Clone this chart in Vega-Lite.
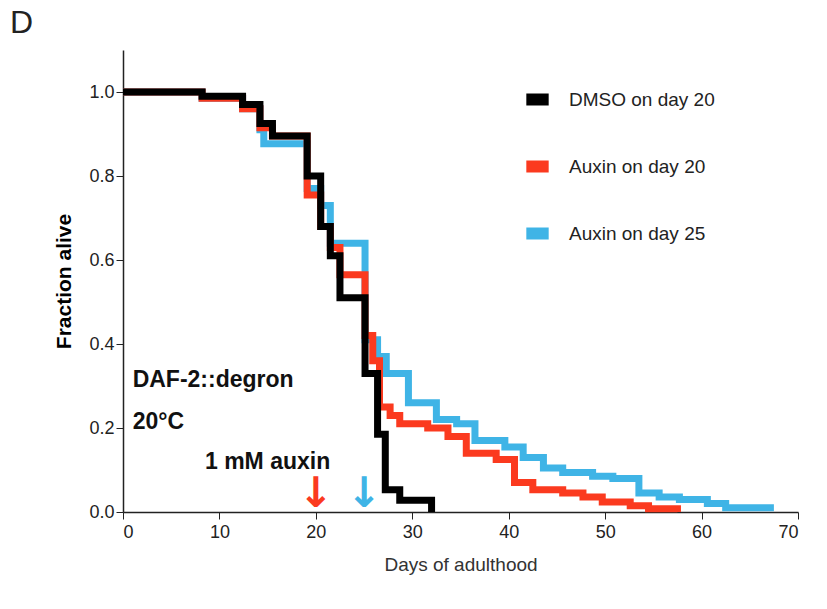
{
  "$schema": "https://vega.github.io/schema/vega-lite/v6.json",
  "width": 675,
  "height": 462,
  "autosize": "none",
  "padding": {"left": 123, "top": 50, "right": 29, "bottom": 97},
  "background": "white",
  "config": {"view": {"stroke": null}, "font": "Liberation Sans"},
  "datasets": {
    "curves": [
      {"g": "DMSO on day 20", "day": 0, "f": 1.0},
      {"g": "DMSO on day 20", "day": 8.2, "f": 0.99},
      {"g": "DMSO on day 20", "day": 12.4, "f": 0.97},
      {"g": "DMSO on day 20", "day": 14.2, "f": 0.925},
      {"g": "DMSO on day 20", "day": 15.5, "f": 0.895},
      {"g": "DMSO on day 20", "day": 19.1, "f": 0.8},
      {"g": "DMSO on day 20", "day": 20.5, "f": 0.68},
      {"g": "DMSO on day 20", "day": 21.5, "f": 0.61},
      {"g": "DMSO on day 20", "day": 22.5, "f": 0.51},
      {"g": "DMSO on day 20", "day": 25.1, "f": 0.33},
      {"g": "DMSO on day 20", "day": 26.4, "f": 0.185},
      {"g": "DMSO on day 20", "day": 27.2, "f": 0.053},
      {"g": "DMSO on day 20", "day": 28.7, "f": 0.028},
      {"g": "DMSO on day 20", "day": 32.0, "f": 0.0},
      {"g": "Auxin on day 20", "day": 0, "f": 1.0},
      {"g": "Auxin on day 20", "day": 8.2, "f": 0.985},
      {"g": "Auxin on day 20", "day": 12.4, "f": 0.96},
      {"g": "Auxin on day 20", "day": 14.2, "f": 0.915},
      {"g": "Auxin on day 20", "day": 15.5, "f": 0.895},
      {"g": "Auxin on day 20", "day": 19.1, "f": 0.755},
      {"g": "Auxin on day 20", "day": 20.5, "f": 0.68},
      {"g": "Auxin on day 20", "day": 21.5, "f": 0.63},
      {"g": "Auxin on day 20", "day": 22.5, "f": 0.565},
      {"g": "Auxin on day 20", "day": 25.1, "f": 0.42},
      {"g": "Auxin on day 20", "day": 25.9, "f": 0.36},
      {"g": "Auxin on day 20", "day": 26.6, "f": 0.25},
      {"g": "Auxin on day 20", "day": 27.7, "f": 0.23},
      {"g": "Auxin on day 20", "day": 28.7, "f": 0.21},
      {"g": "Auxin on day 20", "day": 31.6, "f": 0.2},
      {"g": "Auxin on day 20", "day": 33.7, "f": 0.18},
      {"g": "Auxin on day 20", "day": 35.6, "f": 0.14},
      {"g": "Auxin on day 20", "day": 38.7, "f": 0.125},
      {"g": "Auxin on day 20", "day": 40.6, "f": 0.07},
      {"g": "Auxin on day 20", "day": 42.5, "f": 0.053},
      {"g": "Auxin on day 20", "day": 45.6, "f": 0.045},
      {"g": "Auxin on day 20", "day": 47.7, "f": 0.036},
      {"g": "Auxin on day 20", "day": 49.7, "f": 0.024},
      {"g": "Auxin on day 20", "day": 52.6, "f": 0.015},
      {"g": "Auxin on day 20", "day": 54.5, "f": 0.008},
      {"g": "Auxin on day 20", "day": 57.5, "f": 0.0},
      {"g": "Auxin on day 25", "day": 0, "f": 1.0},
      {"g": "Auxin on day 25", "day": 8.2, "f": 0.985},
      {"g": "Auxin on day 25", "day": 12.4, "f": 0.96},
      {"g": "Auxin on day 25", "day": 14.2, "f": 0.91},
      {"g": "Auxin on day 25", "day": 14.6, "f": 0.877},
      {"g": "Auxin on day 25", "day": 19.1, "f": 0.77},
      {"g": "Auxin on day 25", "day": 20.5, "f": 0.73},
      {"g": "Auxin on day 25", "day": 21.5, "f": 0.64},
      {"g": "Auxin on day 25", "day": 25.1, "f": 0.41},
      {"g": "Auxin on day 25", "day": 26.4, "f": 0.37},
      {"g": "Auxin on day 25", "day": 27.3, "f": 0.33},
      {"g": "Auxin on day 25", "day": 29.6, "f": 0.26},
      {"g": "Auxin on day 25", "day": 32.5, "f": 0.22},
      {"g": "Auxin on day 25", "day": 34.6, "f": 0.21},
      {"g": "Auxin on day 25", "day": 36.5, "f": 0.17},
      {"g": "Auxin on day 25", "day": 39.6, "f": 0.155},
      {"g": "Auxin on day 25", "day": 41.5, "f": 0.13},
      {"g": "Auxin on day 25", "day": 43.6, "f": 0.105},
      {"g": "Auxin on day 25", "day": 45.6, "f": 0.094},
      {"g": "Auxin on day 25", "day": 48.7, "f": 0.085},
      {"g": "Auxin on day 25", "day": 50.8, "f": 0.08},
      {"g": "Auxin on day 25", "day": 53.5, "f": 0.045},
      {"g": "Auxin on day 25", "day": 55.6, "f": 0.036},
      {"g": "Auxin on day 25", "day": 57.7, "f": 0.03},
      {"g": "Auxin on day 25", "day": 60.6, "f": 0.02},
      {"g": "Auxin on day 25", "day": 62.5, "f": 0.01},
      {"g": "Auxin on day 25", "day": 67.5, "f": 0.01}
    ],
    "labels": [
      {"day": 1, "f": 0.315, "t": "DAF-2::degron"},
      {"day": 1, "f": 0.215, "t": "20°C"},
      {"day": 8.5, "f": 0.12, "t": "1 mM auxin"}
    ],
    "arrows": [
      {"day": 20, "f": 0.0, "g": "Auxin on day 20"},
      {"day": 25, "f": 0.0, "g": "Auxin on day 25"}
    ]
  },
  "layer": [
    {
      "data": {"name": "curves"},
      "transform": [{"filter": "datum.g == 'Auxin on day 25'"}],
      "mark": {"type": "line", "interpolate": "step-after", "strokeWidth": 7, "strokeCap": "butt"},
      "encoding": {
        "x": {"field": "day", "type": "quantitative", "scale": {"domain": [0, 70]},
          "axis": {"values": [0, 10, 20, 30, 40, 50, 60, 70], "title": "Days of adulthood", "grid": false,
            "titleFontSize": 19, "titleFontWeight": "normal", "titleColor": "#333", "titlePadding": 14,
            "labelFontSize": 18, "labelColor": "#222", "domainColor": "#222", "tickColor": "#222", "domainWidth": 1.5, "tickSize": 7, "labelPadding": 4}},
        "y": {"field": "f", "type": "quantitative", "scale": {"domain": [0, 1.1], "nice": false},
          "axis": {"values": [0, 0.2, 0.4, 0.6, 0.8, 1.0], "format": ".1f", "title": "Fraction alive", "grid": false,
            "titleFontSize": 21, "titleFontWeight": "bold", "titlePadding": 14,
            "labelFontSize": 18, "labelColor": "#222", "domainColor": "#222", "tickColor": "#222", "domainWidth": 1.5, "tickSize": 7}},
        "color": {"field": "g", "type": "nominal",
          "scale": {"domain": ["DMSO on day 20", "Auxin on day 20", "Auxin on day 25"], "range": ["#000000", "#fb3a1f", "#3fb4e6"]},
          "legend": {"title": null, "orient": "none", "legendX": 397, "legendY": 32, "symbolType": "stroke",
            "symbolStrokeWidth": 12, "symbolSize": 500, "labelFontSize": 19, "labelColor": "#222", "rowPadding": 18, "labelOffset": 14}}
      }
    },
    {
      "data": {"name": "curves"},
      "transform": [{"filter": "datum.g == 'Auxin on day 20'"}],
      "mark": {"type": "line", "interpolate": "step-after", "strokeWidth": 7, "strokeCap": "butt"},
      "encoding": {"x": {"field": "day", "type": "quantitative"}, "y": {"field": "f", "type": "quantitative"}, "color": {"field": "g", "type": "nominal"}}
    },
    {
      "data": {"name": "curves"},
      "transform": [{"filter": "datum.g == 'DMSO on day 20'"}],
      "mark": {"type": "line", "interpolate": "step-after", "strokeWidth": 7, "strokeCap": "butt"},
      "encoding": {"x": {"field": "day", "type": "quantitative"}, "y": {"field": "f", "type": "quantitative"}, "color": {"field": "g", "type": "nominal"}}
    },
    {
      "data": {"name": "labels"},
      "mark": {"type": "text", "align": "left", "baseline": "middle", "fontSize": 23, "fontWeight": "bold", "font": "Liberation Sans", "color": "#111"},
      "encoding": {"x": {"field": "day", "type": "quantitative"}, "y": {"field": "f", "type": "quantitative"}, "text": {"field": "t"}}
    },
    {
      "data": {"name": "arrows"},
      "mark": {"type": "text", "align": "center", "baseline": "bottom", "fontSize": 42, "fontWeight": "bold", "font": "DejaVu Sans", "dy": 4},
      "encoding": {"x": {"field": "day", "type": "quantitative"}, "y": {"field": "f", "type": "quantitative"},
        "text": {"value": "↓"},
        "color": {"field": "g", "type": "nominal"}}
    }
  ],
  "title": {"text": "D", "anchor": "start", "frame": "group", "dx": -113, "dy": -6, "fontSize": 32, "fontWeight": "normal", "color": "#222"}
}
